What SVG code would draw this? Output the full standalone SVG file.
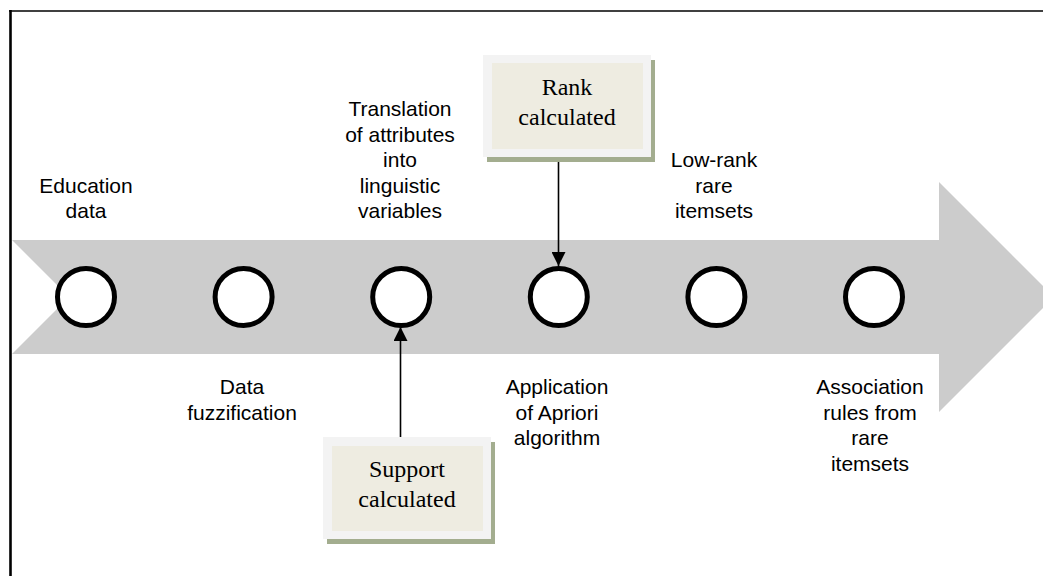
<svg xmlns="http://www.w3.org/2000/svg" width="1043" height="576" viewBox="0 0 1043 576">
  <style>
    .lbl { font-family: "Liberation Sans", Arial, sans-serif; font-size: 21px; fill: #000; text-anchor: middle; }
    .box-txt { font-family: "Liberation Serif", "Times New Roman", serif; font-size: 24px; fill: #000; text-anchor: middle; }
    .step { fill: #fff; stroke: #000; stroke-width: 5; }
    .frame { fill: #f3f3f3; }
    .inner { fill: #eeece1; }
    .shadow { fill: #a3ad8f; }
    .conn { stroke: #000; stroke-width: 1.6; fill: none; marker-end: url(#head); }
  </style>
  <defs>
    <marker id="head" markerWidth="15" markerHeight="14" refX="14" refY="7" orient="auto" markerUnits="userSpaceOnUse">
      <path d="M0,0 L14,7 L0,14 Z" fill="#000"/>
    </marker>
  </defs>

  <rect width="1043" height="576" fill="#fff"/>

  <!-- page frame -->
  <line x1="9" y1="11" x2="1043" y2="11" stroke="#000" stroke-width="1.6"/>
  <line x1="10.5" y1="10" x2="10.5" y2="576" stroke="#000" stroke-width="2.6"/>

  <!-- process arrow -->
  <polygon id="process-arrow" points="12,240 939,240 939,182 1054,297 939,412 939,354 12,354 69,297" fill="#cccccc"/>

  <!-- steps -->
  <g id="step-education">
    <circle class="step" cx="86" cy="297" r="28.5"/>
    <text class="lbl" x="86"><tspan x="86" y="192.5">Education</tspan><tspan x="86" y="218">data</tspan></text>
  </g>
  <g id="step-fuzzification">
    <circle class="step" cx="243.6" cy="297" r="28.5"/>
    <text class="lbl"><tspan x="242" y="394">Data</tspan><tspan x="242" y="419.5">fuzzification</tspan></text>
  </g>
  <g id="step-translation">
    <circle class="step" cx="401.2" cy="297" r="28.5"/>
    <text class="lbl"><tspan x="400" y="116">Translation</tspan><tspan x="400" y="141.5">of attributes</tspan><tspan x="400" y="167">into</tspan><tspan x="400" y="192.5">linguistic</tspan><tspan x="400" y="218">variables</tspan></text>
  </g>
  <g id="step-apriori">
    <circle class="step" cx="558.8" cy="297" r="28.5"/>
    <text class="lbl"><tspan x="557" y="394">Application</tspan><tspan x="557" y="419.5">of Apriori</tspan><tspan x="557" y="445">algorithm</tspan></text>
  </g>
  <g id="step-lowrank">
    <circle class="step" cx="716.4" cy="297" r="28.5"/>
    <text class="lbl"><tspan x="714" y="167">Low-rank</tspan><tspan x="714" y="192.5">rare</tspan><tspan x="714" y="218">itemsets</tspan></text>
  </g>
  <g id="step-rules">
    <circle class="step" cx="874" cy="297" r="28.5"/>
    <text class="lbl"><tspan x="870" y="394">Association</tspan><tspan x="870" y="419.5">rules from</tspan><tspan x="870" y="445">rare</tspan><tspan x="870" y="470.5">itemsets</tspan></text>
  </g>

  <!-- side boxes -->
  <g id="box-rank">
    <rect class="shadow" x="487" y="60" width="168" height="102"/>
    <rect class="frame" x="483" y="55" width="168" height="102"/>
    <rect class="inner" x="492" y="63" width="151" height="86"/>
    <text class="box-txt"><tspan x="567" y="95">Rank</tspan><tspan x="567" y="125">calculated</tspan></text>
  </g>
  <g id="box-support">
    <rect class="shadow" x="327" y="442" width="168" height="102"/>
    <rect class="frame" x="323" y="437" width="168" height="102"/>
    <rect class="inner" x="332" y="446" width="151" height="85"/>
    <text class="box-txt"><tspan x="407" y="477">Support</tspan><tspan x="407" y="507">calculated</tspan></text>
  </g>

  <!-- connectors -->
  <g id="connectors">
    <line class="conn" x1="558.5" y1="162" x2="558.5" y2="266"/>
    <line class="conn" x1="400.5" y1="437" x2="400.5" y2="327"/>
  </g>
</svg>
